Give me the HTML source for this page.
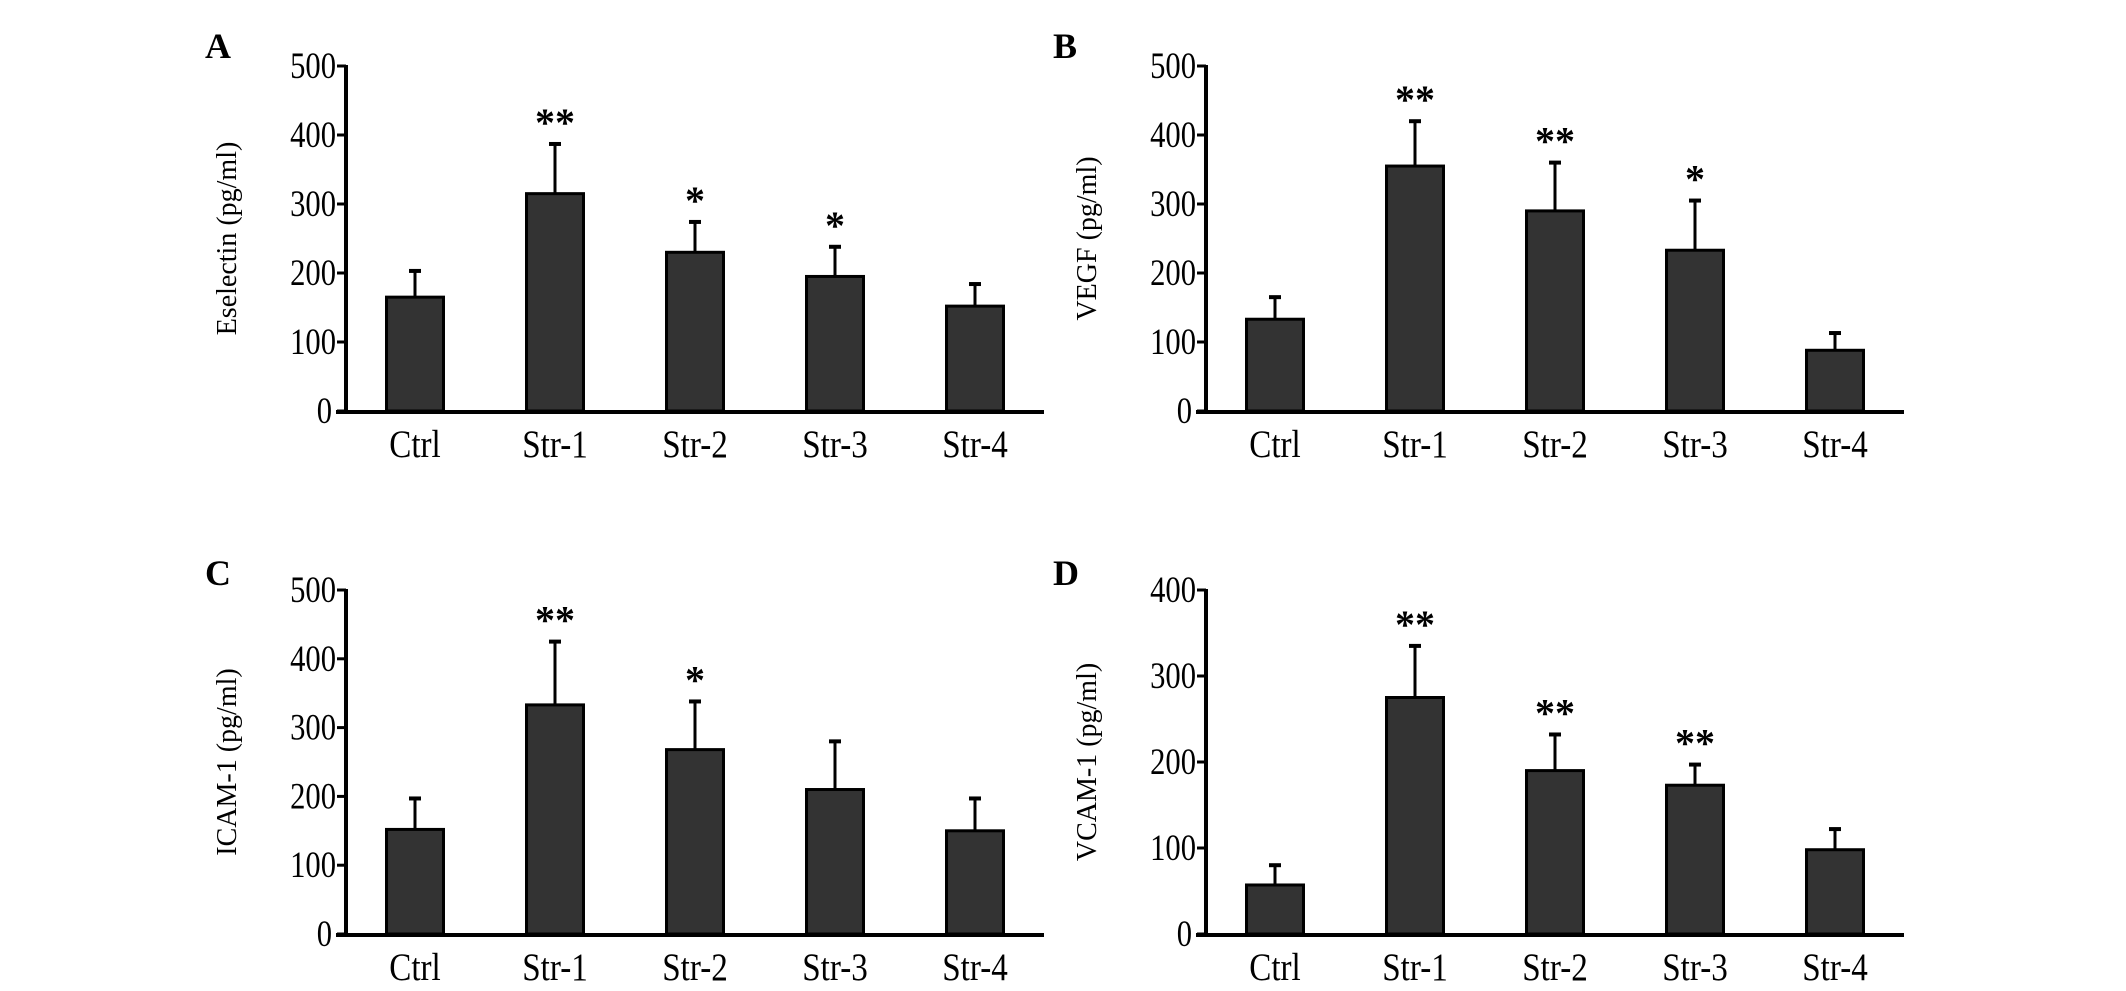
<!DOCTYPE html>
<html><head><meta charset="utf-8"><style>
html,body{margin:0;padding:0;background:#fff;}
svg{display:block;}
text{font-family:"Liberation Serif",serif;fill:#000;}
</style></head><body>
<svg id="fig" width="2126" height="991" viewBox="0 0 2126 991" xmlns="http://www.w3.org/2000/svg"></svg>
<script>
const categories = ["Ctrl","Str-1","Str-2","Str-3","Str-4"];
const valuesA = [165,315,230,195,152];
const errA = [203,387,274,238,184];
const sigA = ["","**","*","*",""];
const valuesB = [133,355,290,233,88];
const errB = [165,420,360,305,113];
const sigB = ["","**","**","*",""];
const valuesC = [152,333,268,210,150];
const errC = [197,425,338,280,197];
const sigC = ["","**","*","",""];
const valuesD = [57,275,190,173,98];
const errD = [80,335,232,197,122];
const sigD = ["","**","**","**",""];
const ticks500 = [0,100,200,300,400,500];
const ticks400 = [0,100,200,300,400];

const NS = "http://www.w3.org/2000/svg";
const svg = document.getElementById("fig");
function mk(tag, attrs, parent, txt){
  const e = document.createElementNS(NS, tag);
  for (const k in attrs) e.setAttribute(k, attrs[k]);
  if (txt !== undefined) e.textContent = txt;
  (parent||svg).appendChild(e);
  return e;
}
function panel(id, letter, lx, ly, ax, axEnd, top, base, max, ticks, title, vals, errs, sigs){
  const g = mk("g", {});
  
  
  const y = v => base - (v / max) * (base - top);
  const step = 140, x0 = ax + 69, bw = 57;
  const x = i => x0 + i * step;
  const pl = mk("text", {x: lx, y: ly, "font-size": 36, "font-weight": "bold"}, g, letter);
  
  
  const tt = mk("text", {x: 0, y: 0, "font-size": 28, "text-anchor": "middle",
    transform: "translate(" + (ax - 110) + "," + ((top + base) / 2) + ") rotate(-90)"}, g, title);
  
  
  ticks.forEach(t => {
    const tl = mk("line", {x1: ax - 9, x2: ax, y1: y(t), y2: y(t), stroke: "#000", "stroke-width": 3}, g);
    
    
    const lb = mk("text", {x: 0, y: 0, "font-size": 34, "text-anchor": "end",
      transform: "translate(" + (ax - (t === 0 ? 14 : 10)) + "," + (y(t) + 12) + ") scale(0.9,1.1)"}, g, t);
    
    
  });
  vals.forEach((v, i) => {
    const cx = x(i);
    const el = mk("line", {x1: cx, x2: cx, y1: y(v), y2: y(errs[i]), stroke: "#000", "stroke-width": 3}, g);
    
    
    const cap = mk("line", {x1: cx - 6, x2: cx + 6, y1: y(errs[i]), y2: y(errs[i]), stroke: "#000", "stroke-width": 4}, g);
    
    
    const b = mk("rect", {x: cx - bw / 2, y: y(v), width: bw, height: base - y(v), fill: "#333", stroke: "#000", "stroke-width": 3}, g);
    
    
    if (sigs[i]) {
      const s = mk("text", {x: cx, y: y(errs[i]) - 8, "font-size": 40, "font-weight": "bold", "text-anchor": "middle"}, g, sigs[i]);
      
      
    }
    const cl = mk("text", {x: 0, y: 0, "font-size": 36, "text-anchor": "middle",
      transform: "translate(" + cx + "," + (base + 46) + ") scale(0.92,1.08)"}, g, categories[i]);
    
    
  });
  const ya = mk("line", {x1: ax, x2: ax, y1: top - 1, y2: base + 2, stroke: "#000", "stroke-width": 4}, g);
  
  
  const xa = mk("line", {x1: ax - 10, x2: axEnd, y1: base + 1, y2: base + 1, stroke: "#000", "stroke-width": 4}, g);
  
  
}
panel("a","A",205,58,346,1044,66,411,500,ticks500,"Eselectin (pg/ml)",valuesA,errA,sigA);
panel("b","B",1053,58,1206,1904,66,411,500,ticks500,"VEGF (pg/ml)",valuesB,errB,sigB);
panel("c","C",205,585,346,1044,590,934,500,ticks500,"ICAM-1 (pg/ml)",valuesC,errC,sigC);
panel("d","D",1053,585,1206,1904,590,934,400,ticks400,"VCAM-1 (pg/ml)",valuesD,errD,sigD);
</script>
</body></html>
